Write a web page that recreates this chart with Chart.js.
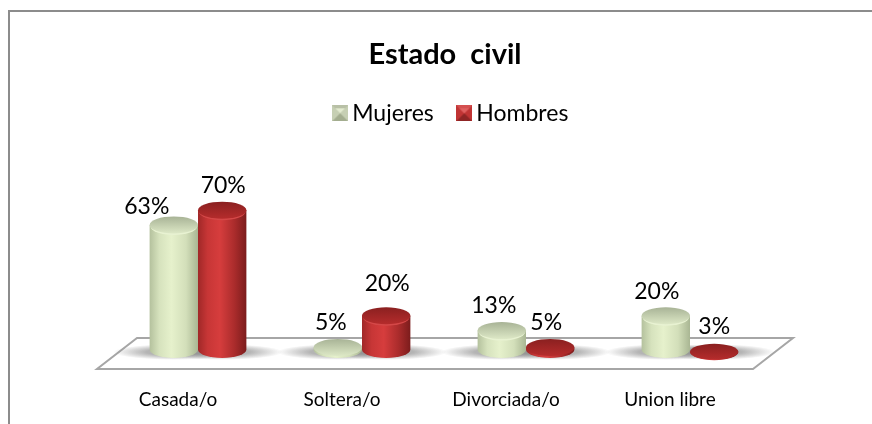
<!DOCTYPE html>
<html>
<head>
<meta charset="utf-8">
<script src="https://cdn.jsdelivr.net/npm/chart.js@4"></script>
<style>
html,body{margin:0;padding:0;background:#fff}
#wrap{position:absolute;left:0;top:0;width:872px;height:424px}
</style>
</head>
<body>
<div id="wrap"><canvas id="c" width="872" height="424"></canvas></div>
<script>
var categories = ["Casada/o", "Soltera/o", "Divorciada/o", "Union libre"]
var mujeres = [63, 5, 13, 20]
var hombres = [70, 20, 5, 3]

// label nudges, the original moved some labels by hand
var nudgeMujeres = [[-27, 7], [-7, 0], [-8, 0], [-9, 1]]
var nudgeHombres = [[1, 0], [1, -7], [-4, 0], [0, 0]]

var green = {stops: ["#b4c19d", "#d6e2bd", "#e6f1cc", "#d3dfba", "#a9b693"], capA: "#a8b396", capB: "#dde8c6", rim: "#e8f2d2"}
var red = {stops: ["#a02828", "#c73636", "#d63d3d", "#ab2c2c", "#7c1c1c"], capA: "#8a2020", capB: "#b52c2c", rim: "#d44848"}

function swatch(outerTop, outerSide, outerBottom, inner) {
    var s = document.createElement("canvas")
    s.width = 16; s.height = 16
    var x = s.getContext("2d")
    x.fillStyle = outerSide; x.fillRect(0, 0, 16, 16)
    x.fillStyle = outerTop
    x.beginPath(); x.moveTo(0, 0); x.lineTo(16, 0); x.lineTo(8, 8); x.fill()
    x.fillStyle = outerBottom
    x.beginPath(); x.moveTo(0, 16); x.lineTo(16, 16); x.lineTo(8, 8); x.fill()
    x.fillStyle = inner
    x.beginPath(); x.moveTo(3, 3); x.lineTo(13, 3); x.lineTo(8, 8); x.fill()
    return s
}

var floorPlugin = {
    id: "floor",
    afterLayout: function(chart) {
        // legend and title sit a bit right of the plot centre
        chart.legend.left += 10
        chart.legend.right += 10
        chart.titleBlock.left += 1
        chart.titleBlock.right += 1
    },
    beforeDatasetsDraw: function(chart) {
        var a = chart.chartArea, ctx = chart.ctx
        ctx.save()
        ctx.strokeStyle = "#a6a6a6"
        ctx.lineWidth = 2
        ctx.beginPath()
        ctx.moveTo(a.left - 19, a.bottom + 11)
        ctx.lineTo(a.right - 19, a.bottom + 11)
        ctx.lineTo(a.right + 21, a.bottom - 20)
        ctx.lineTo(a.left + 21, a.bottom - 20)
        ctx.closePath()
        ctx.stroke()
        ctx.restore()
    }
}

function cylinder(ctx, bar, col) {
    var hw = bar.width / 2, ry = 8.5
    var low = bar.base - ry
    var top = bar.y
    var capRy = Math.min(ry, Math.max(bar.base - top + 1.5, 5))
    var tall = low > top + 3
    if (top > low) low = top

    var g = ctx.createLinearGradient(bar.x - hw, 0, bar.x + hw, 0)
    g.addColorStop(0, col.stops[0])
    g.addColorStop(0.2, col.stops[1])
    g.addColorStop(0.45, col.stops[2])
    g.addColorStop(0.75, col.stops[3])
    g.addColorStop(1, col.stops[4])
    ctx.fillStyle = g
    ctx.beginPath()
    ctx.moveTo(bar.x - hw, top)
    ctx.lineTo(bar.x - hw, low)
    ctx.ellipse(bar.x, low, hw, ry, 0, Math.PI, 0, true)
    ctx.lineTo(bar.x + hw, top)
    ctx.closePath()
    ctx.fill()

    // light rim under the cap, only on the taller ones
    if (tall) {
        ctx.fillStyle = col.rim
        ctx.beginPath()
        ctx.ellipse(bar.x, top + 1.5, hw - 1, capRy, 0, 0, Math.PI * 2)
        ctx.fill()
    }

    var c = ctx.createLinearGradient(0, top - capRy, 0, top + capRy)
    c.addColorStop(0, col.capA)
    c.addColorStop(1, col.capB)
    ctx.fillStyle = c
    ctx.beginPath()
    ctx.ellipse(bar.x, top, hw, capRy, 0, 0, Math.PI * 2)
    ctx.fill()
}

function shadow(ctx, bar) {
    ctx.save()
    ctx.translate(bar.x, bar.base - 6)
    ctx.scale(1, 0.13)
    var r = bar.width * 1.25
    var g = ctx.createRadialGradient(0, 0, r * 0.45, 0, 0, r)
    g.addColorStop(0, "rgba(130,130,130,0.6)")
    g.addColorStop(1, "rgba(130,130,130,0)")
    ctx.fillStyle = g
    ctx.beginPath()
    ctx.arc(0, 0, r, 0, Math.PI * 2)
    ctx.fill()
    ctx.restore()
}

var cylinderPlugin = {
    id: "cylinders",
    afterDatasetsDraw: function(chart) {
        var ctx = chart.ctx
        var m0 = chart.getDatasetMeta(0).data
        var m1 = chart.getDatasetMeta(1).data
        ctx.save()
        m0.forEach(function(b) { shadow(ctx, b) })
        m1.forEach(function(b) { shadow(ctx, b) })
        m0.forEach(function(b) { cylinder(ctx, b, green) })
        m1.forEach(function(b) { cylinder(ctx, b, red) })

        ctx.fillStyle = "#000"
        ctx.font = "23px Lato"
        ctx.textAlign = "center"
        ctx.textBaseline = "middle"
        m0.forEach(function(b, i) {
            ctx.fillText(mujeres[i] + "%", b.x + nudgeMujeres[i][0], b.y - 25 + nudgeMujeres[i][1])
        })
        m1.forEach(function(b, i) {
            ctx.fillText(hombres[i] + "%", b.x + nudgeHombres[i][0], b.y - 25 + nudgeHombres[i][1])
        })
        ctx.restore()

        // frame, only top and left are in the picture
        ctx.save()
        ctx.strokeStyle = "#8c8c8c"
        ctx.lineWidth = 2
        ctx.beginPath()
        ctx.moveTo(9, 424)
        ctx.lineTo(9, 11)
        ctx.lineTo(872, 11)
        ctx.stroke()
        ctx.restore()
    }
}

new Chart(document.getElementById("c"), {
    type: "bar",
    data: {
        labels: categories,
        datasets: [
            {label: "Mujeres", data: mujeres, backgroundColor: "rgba(0,0,0,0)"},
            {label: "Hombres", data: hombres, backgroundColor: "rgba(0,0,0,0)"}
        ]
    },
    plugins: [floorPlugin, cylinderPlugin],
    options: {
        responsive: false,
        animation: false,
        events: [],
        categoryPercentage: 0.59,
        barPercentage: 1,
        layout: {padding: {left: 116, right: 100, top: 37, bottom: 4}},
        plugins: {
            tooltip: {enabled: false},
            title: {
                display: true,
                text: "Estado  civil",
                color: "#000",
                font: {family: "Lato", size: 29, weight: "bold", lineHeight: 1.2},
                padding: {top: 0, bottom: 0}
            },
            legend: {
                position: "top",
                labels: {
                    color: "#000",
                    font: {family: "Lato", size: 23},
                    usePointStyle: true,
                    pointStyleWidth: 1,
                    padding: 30,
                    generateLabels: function() {
                        return [
                            {text: "Mujeres", pointStyle: swatch("#b8c0a6", "#c6cfb3", "#a3ad8f", "#e3ebd0"), fontColor: "#000", lineWidth: 0, strokeStyle: "transparent", datasetIndex: 0},
                            {text: "Hombres", pointStyle: swatch("#d45050", "#c03434", "#8f2525", "#e06060"), fontColor: "#000", lineWidth: 0, strokeStyle: "transparent", datasetIndex: 1}
                        ]
                    }
                }
            }
        },
        scales: {
            x: {
                grid: {display: false},
                border: {display: false},
                afterFit: function(s) { s.height = 62 },
                ticks: {
                    color: "#000",
                    font: {family: "Lato", size: 19},
                    padding: 22,
                    labelOffset: -20,
                    maxRotation: 0
                }
            },
            y: {display: false, min: 0, max: 105.7, beginAtZero: true}
        }
    }
})
</script>
</body>
</html>
